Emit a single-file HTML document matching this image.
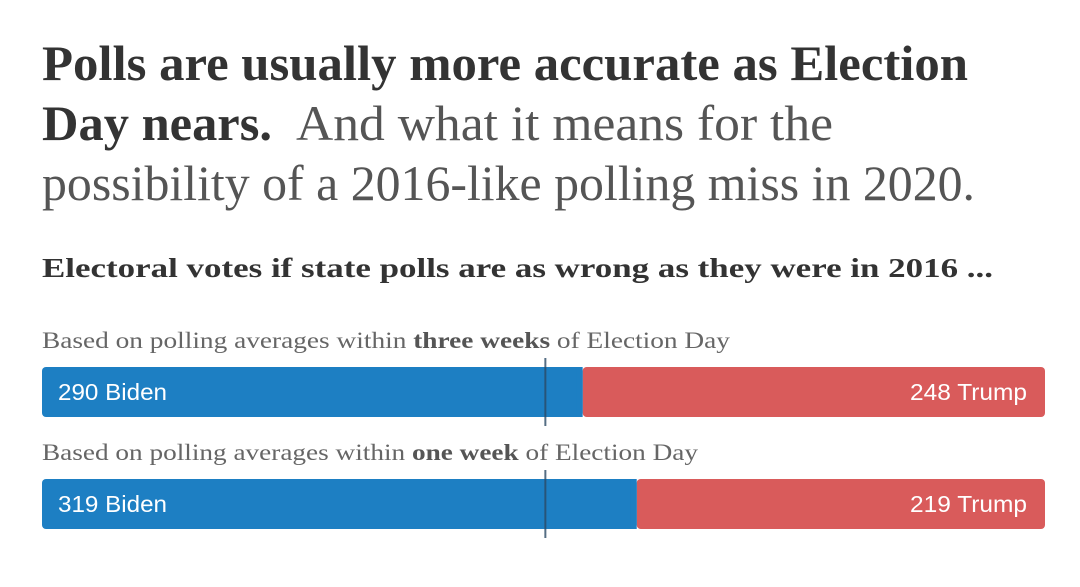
<!DOCTYPE html>
<html><head><meta charset="utf-8"><style>
html,body{margin:0;padding:0;background:#fff;width:1080px;height:587px;overflow:hidden}
svg{display:block}
</style></head><body>
<svg id="chart" width="1080" height="587">
<text x="42" y="80" font-family="Liberation Serif, serif" font-weight="bold" font-size="50" fill="#333" textLength="926" lengthAdjust="spacingAndGlyphs">Polls are usually more accurate as Election</text>
<text x="42" y="140" font-family="Liberation Serif, serif" font-weight="bold" font-size="50" fill="#333" textLength="230" lengthAdjust="spacingAndGlyphs">Day nears.</text>
<text x="296" y="140" font-family="Liberation Serif, serif" font-size="50" fill="#555" textLength="537" lengthAdjust="spacingAndGlyphs">And what it means for the</text>
<text x="42" y="200" font-family="Liberation Serif, serif" font-size="50" fill="#555" textLength="933" lengthAdjust="spacingAndGlyphs">possibility of a 2016-like polling miss in 2020.</text>
<text x="42" y="277" font-family="Liberation Serif, serif" font-weight="bold" font-size="27" fill="#333" textLength="951" lengthAdjust="spacingAndGlyphs">Electoral votes if state polls are as wrong as they were in 2016 ...</text>
<g id="rows"></g>
</svg>
<script>
const scenarios = ["three weeks", "one week"];
const bidenVotes = [290, 319];
const trumpVotes = [248, 219];
const labelWidths = [688, 656];
const total = 538, win = 270;
const x0 = 42, x1 = 1045;
const xs = v => x0 + v / total * (x1 - x0);
const NS = "http://www.w3.org/2000/svg";
const g = document.getElementById("rows");
function mk(tag, attrs, txt){const e=document.createElementNS(NS,tag);for(const k in attrs)e.setAttribute(k,attrs[k]);if(txt!=null)e.textContent=txt;g.appendChild(e);return e;}
scenarios.forEach((s,i)=>{
  const top = 367 + i*112;
  const lab = mk("text",{x:42,y:top-19,"font-family":"Liberation Serif, serif","font-size":"23",fill:"#666",textLength:labelWidths[i],lengthAdjust:"spacingAndGlyphs"});
  
  
  lab.innerHTML = 'Based on polling averages within <tspan font-weight="bold" fill="#555">'+s+'</tspan> of Election Day';
  const bx = xs(0), bw = xs(bidenVotes[i]) - xs(0);
  const rb = mk("rect",{x:xs(bidenVotes[i]),y:top,width:xs(bidenVotes[i]+trumpVotes[i])-xs(bidenVotes[i]),height:50,rx:4,fill:"#d95b5b"});
  
  
  const b = mk("rect",{x:bx,y:top,width:bw,height:50,rx:4,fill:"#1d7fc3"});
  
  
  const bf = mk("rect",{x:bx+bw-6,y:top,width:6,height:50,fill:"#1d7fc3"});
  
  
  const bt = mk("text",{x:58,y:top+33,"font-family":"Liberation Sans, sans-serif","font-size":"23",fill:"#fff",textLength:109,lengthAdjust:"spacingAndGlyphs"},bidenVotes[i]+" Biden");
  
  
  const tt = mk("text",{x:910,y:top+33,"font-family":"Liberation Sans, sans-serif","font-size":"23",fill:"#fff",textLength:117,lengthAdjust:"spacingAndGlyphs"},trumpVotes[i]+" Trump");
  
  
  const ln = mk("line",{x1:xs(win),x2:xs(win),y1:top-9,y2:top+59,stroke:"#2b4a66","stroke-width":2,opacity:0.8});
  
  
});
</script>
</body></html>
